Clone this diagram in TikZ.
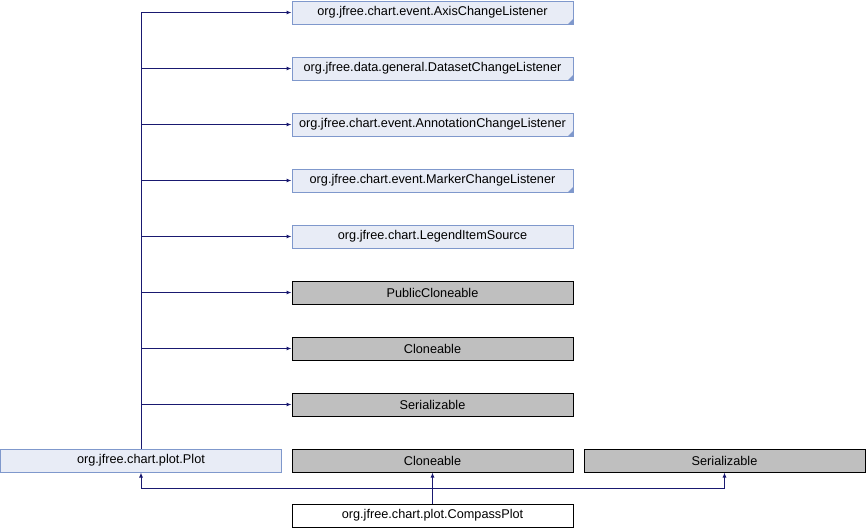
\documentclass[tikz,border=0pt]{standalone}
\usepackage{fontspec}
\setmainfont{Liberation Sans}
\usetikzlibrary{arrows.meta}
\definecolor{edgeblue}{HTML}{191970}
\definecolor{ifill}{HTML}{E8ECF6}
\definecolor{iborder}{HTML}{7F98CC}
\definecolor{gfill}{HTML}{BFBFBF}
\begin{document}
\begin{tikzpicture}[x=1pt,y=-1pt,
  box/.style={draw, minimum width=281pt, minimum height=23pt, inner sep=0pt,
    font=\fontsize{12.7}{14}\selectfont, line width=1pt},
  iface/.style={box, fill=ifill, draw=iborder},
  ext/.style={box, fill=gfill, draw=black},
  plain/.style={box, fill=white, draw=black},
  inherit/.style={draw=edgeblue, line width=1pt, -{Latex[length=5pt,width=4pt]}},
  corner/.style={fill=iborder}]
\useasboundingbox (0,0) rectangle (866,528);

% interfaces and base classes, right column
\node[iface] (axis)   at (432.5, 12.5) {org.jfree.chart.event.AxisChangeListener};
\node[iface] (data)   at (432.5, 68.5) {org.jfree.data.general.DatasetChangeListener};
\node[iface] (annot)  at (432.5,124.5) {org.jfree.chart.event.AnnotationChangeListener};
\node[iface] (marker) at (432.5,180.5) {org.jfree.chart.event.MarkerChangeListener};
\node[iface] (legend) at (432.5,236.5) {org.jfree.chart.LegendItemSource};
\node[ext]   (pubcl)  at (432.5,292.5) {PublicCloneable};
\node[ext]   (clone1) at (432.5,348.5) {Cloneable};
\node[ext]   (ser1)   at (432.5,404.5) {Serializable};

% linked-class corner marks
\foreach \n in {axis,data,annot,marker}{
  \fill[corner] ([xshift=-5.5pt,yshift=0.5pt]\n.south east) -- ([xshift=-0.5pt,yshift=0.5pt]\n.south east) -- ([xshift=-0.5pt,yshift=5.5pt]\n.south east) -- cycle;
}

% bottom rows
\node[iface] (plot)   at (141,460.5)   {org.jfree.chart.plot.Plot};
\node[ext]   (clone2) at (432.5,460.5) {Cloneable};
\node[ext]   (ser2)   at (724.5,460.5) {Serializable};
\node[plain] (compass) at (432.5,515.5) {org.jfree.chart.plot.CompassPlot};

% Plot implements
\foreach \t in {axis,data,annot,marker,legend,pubcl,clone1,ser1}{
  \draw[inherit] (plot.north) |- (\t.west);
}

% CompassPlot inherits
\coordinate (j) at (compass.north |- 0,488);
\draw[inherit] (compass.north) -- (clone2.south);
\draw[inherit] (j) -| (plot.south);
\draw[inherit] (j) -| (ser2.south);
\end{tikzpicture}
\end{document}
